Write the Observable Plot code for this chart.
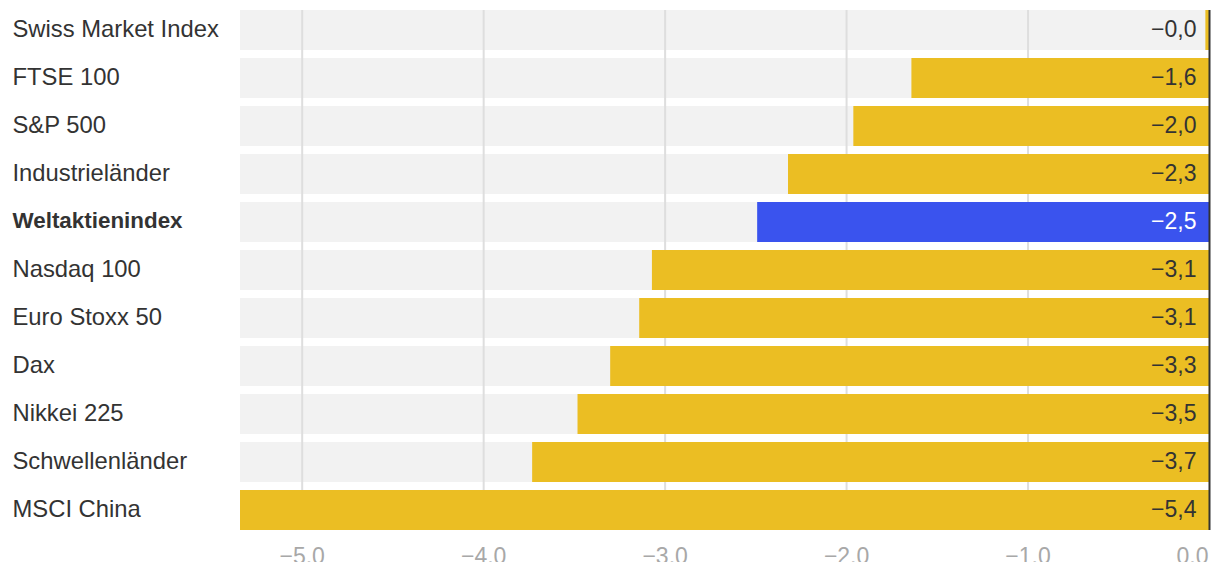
<!DOCTYPE html>
<html>
<head>
<meta charset="utf-8">
<script src="https://cdn.jsdelivr.net/npm/d3@7"></script>
<script src="https://cdn.jsdelivr.net/npm/@observablehq/plot@0.6"></script>
<style>
  html, body { margin: 0; padding: 0; background: #fff; }
  #chart svg { overflow: hidden; display: block; }
</style>
</head>
<body>
<div id="chart"></div>
<script>
const names = ["Swiss Market Index","FTSE 100","S&P 500","Industrieländer","Weltaktienindex","Nasdaq 100","Euro Stoxx 50","Dax","Nikkei 225","Schwellenländer","MSCI China"];
const values = [-0.02, -1.64, -1.96, -2.32, -2.49, -3.07, -3.14, -3.30, -3.48, -3.73, -5.36];
const highlight = "Weltaktienindex";
const tickValues = [-5, -4, -3, -2, -1, 0];
const xMin = -5.34;

const data = names.map((n, i) => ({name: n, value: values[i]}));
const fmtValue = v => (v < 0 ? "\u2212" : "") + Math.abs(v).toFixed(1).replace(".", ",");
const fmtTick = v => (v < 0 ? "\u2212" : "") + Math.abs(v).toFixed(1);
const font = "'Liberation Sans', Arial, Helvetica, sans-serif";

const chart = Plot.plot({
  width: 1220,
  height: 562,
  marginTop: 10,
  marginBottom: 32,
  marginLeft: 240,
  marginRight: 11,
  style: {fontFamily: font, fontSize: "23px", background: "white", overflow: "hidden"},
  x: {domain: [xMin, 0], axis: null},
  y: {domain: names, paddingInner: 1/6, paddingOuter: 0, axis: null},
  marks: [
    Plot.barX(names, {y: d => d, x1: () => xMin, x2: () => 0, fill: "#f2f2f2"}),
    Plot.ruleX(tickValues.filter(t => t !== 0), {x: d => d, stroke: "#dedede", strokeWidth: 2}),
    Plot.barX(data, {y: "name", x1: "value", x2: () => 0, fill: d => d.name === highlight ? "#3a53ee" : "#ebbe23", clip: true}),
    Plot.ruleX([0], {stroke: "#333", strokeWidth: 2}),
    Plot.text(data, {y: "name", x: () => 0, text: d => fmtValue(d.value), textAnchor: "end", dx: -13, dy: -1,
      fill: d => d.name === highlight ? "white" : "#333", fontSize: 23}),
    Plot.text(data.filter(d => d.name !== highlight), {y: "name", frameAnchor: "left", text: "name", textAnchor: "start", dx: -228, dy: -1.5, fill: "#333", fontSize: 23.8}),
    Plot.text(data.filter(d => d.name === highlight), {y: "name", frameAnchor: "left", text: "name", textAnchor: "start", dx: -228, dy: -1.5, fill: "#333", fontSize: 22.4, fontWeight: "bold"}),
    Plot.text(tickValues.filter(t => t !== 0), {x: d => d, frameAnchor: "bottom", text: fmtTick, lineAnchor: "top", dy: 17, fill: "#a8a8a8", fontSize: 23}),
    Plot.text([0], {x: d => d, frameAnchor: "bottom", text: fmtTick, lineAnchor: "top", textAnchor: "end", dx: -1, dy: 17, fill: "#a8a8a8", fontSize: 23})
  ]
});
document.getElementById("chart").appendChild(chart);
</script>
</body>
</html>
